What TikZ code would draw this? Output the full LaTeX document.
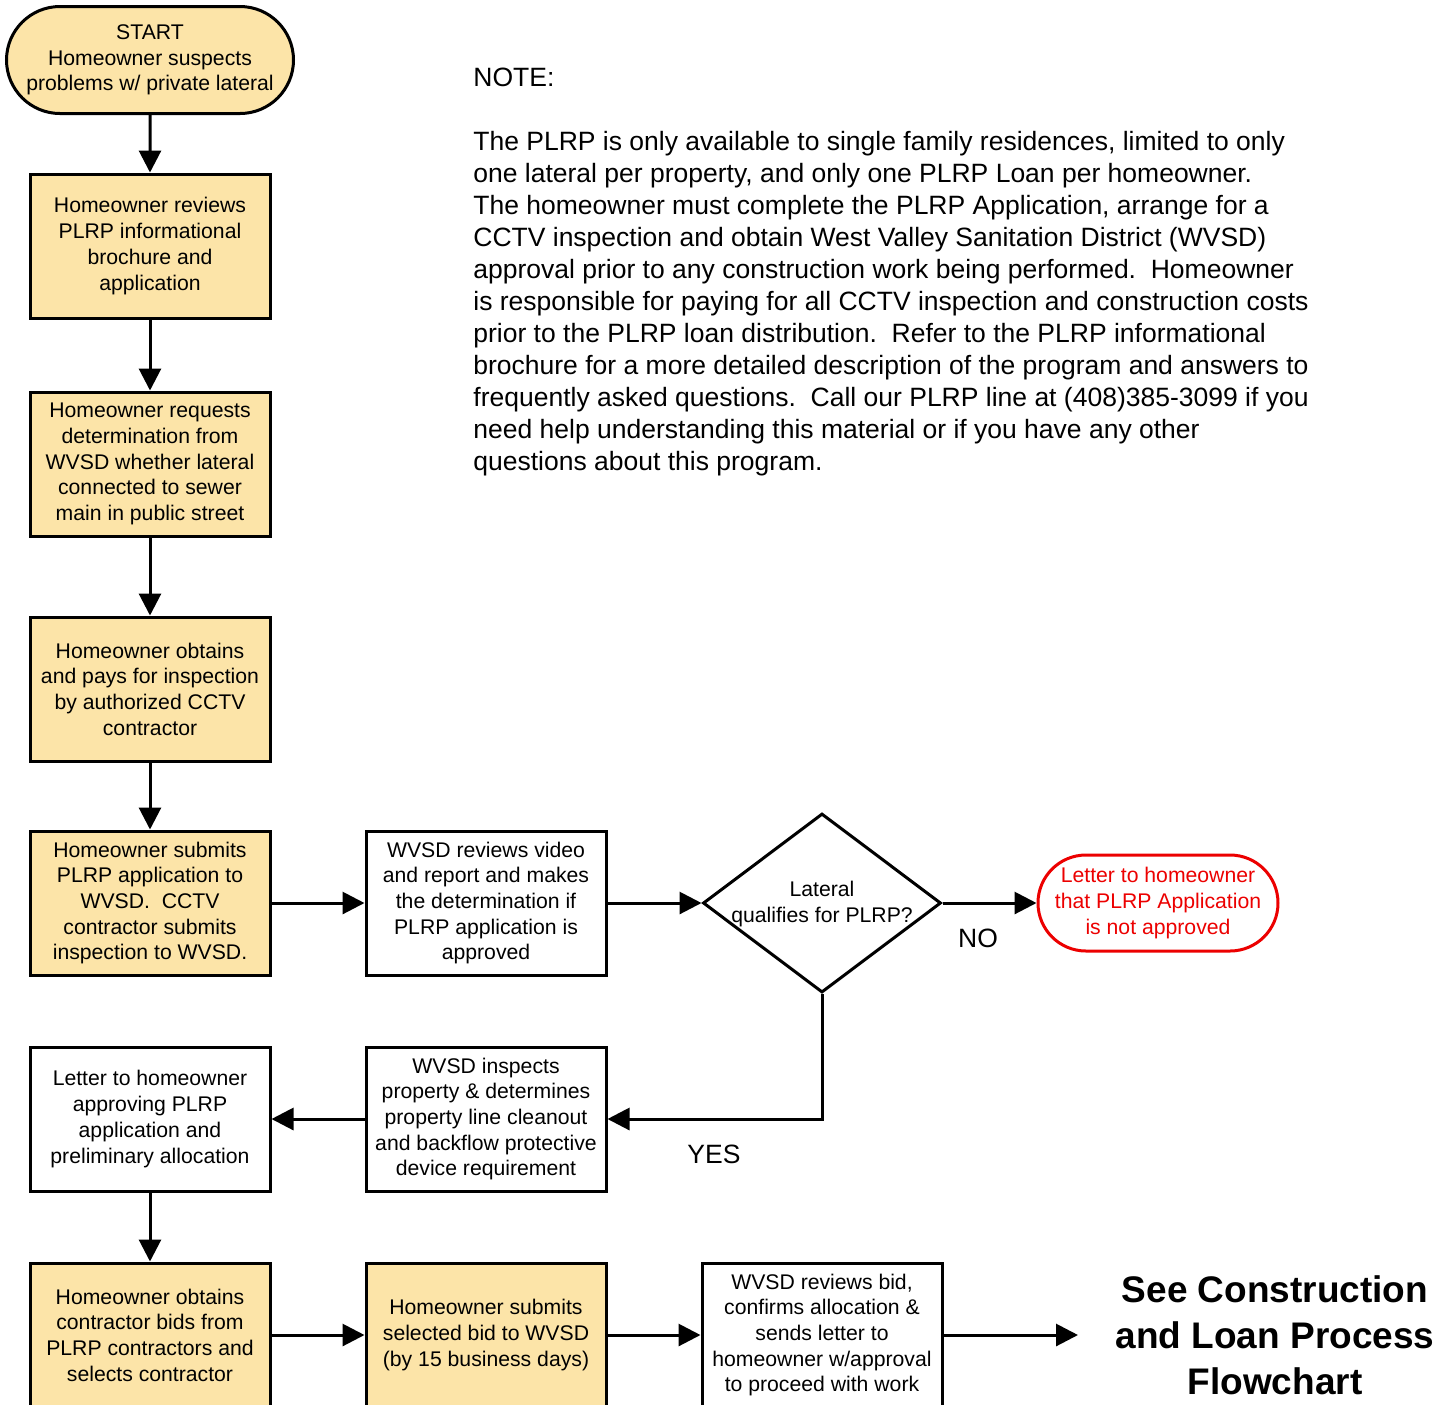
\documentclass[tikz,border=0pt]{standalone}
\usepackage{fontspec}
\setmainfont{Liberation Sans}
\usetikzlibrary{shapes.geometric,shapes.misc,arrows.meta}
\definecolor{tanfill}{RGB}{252,228,168}
\definecolor{redline}{RGB}{236,0,0}
\newcommand\boxfont{\fontsize{10.6}{12.85}\selectfont}
\newcommand\notefont{\fontsize{13.25}{16}\selectfont}
\newcommand\titlefont{\fontsize{18.5}{23}\selectfont\bfseries}
\begin{document}
\begin{tikzpicture}[x=0.5pt,y=-0.5pt,
  box/.style={draw, line width=1.5pt, minimum width=120pt, minimum height=72pt,
    inner sep=0pt, align=center, font=\boxfont},
  tanbox/.style={box, fill=tanfill},
  term/.style={rounded rectangle, draw, line width=1.5pt, inner sep=0pt,
    align=center, font=\boxfont},
  arr/.style={line width=1.5pt, -{Triangle[length=11pt,width=11pt]}},
  lbl/.style={font=\notefont, inner sep=0pt}]
\useasboundingbox (0,0) rectangle (1448,1405);
\clip (0,0) rectangle (1448,1405);

% left column
\node[term, fill=tanfill, minimum width=143.5pt, minimum height=53.5pt] (start) at (150,60)
  {START\\Homeowner suspects\\problems w/ private lateral};
\node[tanbox] (review) at (150,246)
  {Homeowner reviews\\PLRP informational\\brochure and\\application};
\node[tanbox] (request) at (150,464)
  {Homeowner requests\\determination from\\WVSD whether lateral\\connected to sewer\\main in public street};
\node[tanbox] (obtain) at (150,689)
  {Homeowner obtains\\and pays for inspection\\by authorized CCTV\\contractor};
\node[tanbox] (submit) at (150,903)
  {Homeowner submits\\PLRP application to\\WVSD.\ \ CCTV\\contractor submits\\inspection to WVSD.};
\node[box] (video) at (486,903)
  {WVSD reviews video\\and report and makes\\the determination if\\PLRP application is\\approved};
\node[diamond, draw, line width=1.5pt, minimum width=119pt, minimum height=89.5pt, inner sep=0pt] (qual) at (822,903) {};
\node[font=\boxfont, align=center, inner sep=0pt] (qualtext) at (822,904) {Lateral\\qualifies for PLRP?};
\node[term, draw=redline, text=redline, minimum width=120pt, minimum height=48pt] (notappr) at (1158,903)
  {Letter to homeowner\\that PLRP Application\\is not approved};
\node[lbl] (no) at (978,938) {NO};

\node[box] (inspect) at (486,1119)
  {WVSD inspects\\property \& determines\\property line cleanout\\and backflow protective\\device requirement};
\node[box] (letter) at (150,1119)
  {Letter to homeowner\\approving PLRP\\application and\\preliminary allocation};
\node[lbl] (yes) at (714,1154) {YES};

\node[tanbox] (bids) at (150,1335)
  {Homeowner obtains\\contractor bids from\\PLRP contractors and\\selects contractor};
\node[tanbox] (selbid) at (486,1335)
  {Homeowner submits\\selected bid to WVSD\\(by 15 business days)};
\node[box] (wvsdbid) at (822,1335)
  {WVSD reviews bid,\\confirms allocation \&\\sends letter to\\homeowner w/approval\\to proceed with work};
\coordinate (endpt) at (1078,1335);
\node[font=\titlefont, align=center, inner sep=0pt] (title) at (1275,1335)
  {See Construction\\and Loan Process\\Flowchart};

% note
\node[lbl, anchor=base west] (notehead) at (473,86) {NOTE:};
\node[lbl, anchor=base west, align=left] (note) at (473,470)
  {The PLRP is only available to single family residences, limited to only\\
   one lateral per property, and only one PLRP Loan per homeowner.\\
   The homeowner must complete the PLRP Application, arrange for a\\
   CCTV inspection and obtain West Valley Sanitation District (WVSD)\\
   approval prior to any construction work being performed.\ \ Homeowner\\
   is responsible for paying for all CCTV inspection and construction costs\\
   prior to the PLRP loan distribution.\ \ Refer to the PLRP informational\\
   brochure for a more detailed description of the program and answers to\\
   frequently asked questions.\ \ Call our PLRP line at (408)385-3099 if you\\
   need help understanding this material or if you have any other\\
   questions about this program.};

% connectors
\draw[arr] (start) -- (review);
\draw[arr] (review) -- (request);
\draw[arr] (request) -- (obtain);
\draw[arr] (obtain) -- (submit);
\draw[arr] (submit) -- (video);
\draw[arr] (video.east) -- (qual.west);
\draw[arr] (qual.east) -- (notappr.west);
\draw[arr] (qual.south) |- (inspect.east);
\draw[arr] (inspect) -- (letter);
\draw[arr] (letter) -- (bids);
\draw[arr] (bids) -- (selbid);
\draw[arr] (selbid) -- (wvsdbid);
\draw[arr] (wvsdbid.east) -- (endpt);
\end{tikzpicture}
\end{document}
